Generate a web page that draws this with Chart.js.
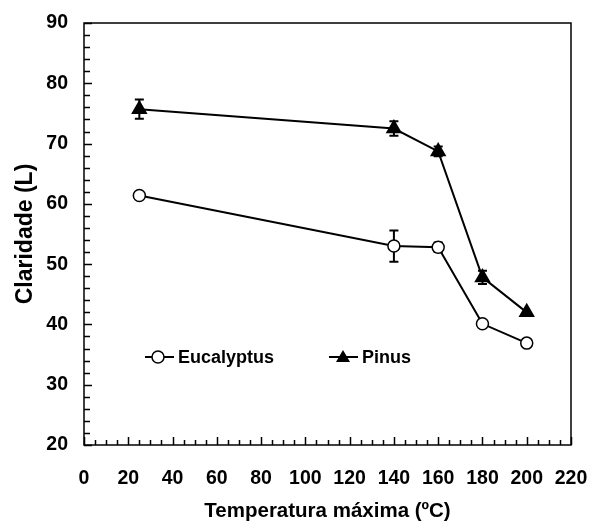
<!DOCTYPE html>
<html>
<head>
<meta charset="utf-8">
<script src="https://cdn.jsdelivr.net/npm/chart.js@4.4.0/dist/chart.umd.min.js"></script>
<style>
  html, body { margin: 0; padding: 0; background: #fff; }
  #wrap { width: 589px; height: 524px; }
</style>
</head>
<body>
<div id="wrap"><canvas id="myChart"></canvas></div>
<script>
const temps = [25, 140, 160, 180, 200];
const eucalyptus = [61.4, 53.0, 52.8, 40.1, 36.9];
const eucalyptusErr = [0, 2.6, 0.8, 0, 0];
const pinus = [75.7, 72.5, 68.7, 47.8, 42.0];
const pinusErr = [1.6, 1.2, 0.8, 1.1, 0];
const xTicks = [0, 20, 40, 60, 80, 100, 120, 140, 160, 180, 200, 220];
const yTicks = [20, 30, 40, 50, 60, 70, 80, 90];

const fontFam = "'Liberation Sans', Arial, sans-serif";

function points(ys) {
  return temps.map((t, i) => ({x: t, y: ys[i]}));
}

// error bars, frame, inside ticks and the legend box
const extras = {
  id: "extras",
  beforeDatasetsDraw(chart) {
    const ctx = chart.ctx;
    const xs = chart.scales.x, ys = chart.scales.y;
    ctx.save();
    ctx.strokeStyle = "#000";
    ctx.lineWidth = 2;
    [[eucalyptus, eucalyptusErr], [pinus, pinusErr]].forEach(([vals, errs]) => {
      vals.forEach((v, i) => {
        if (!errs[i]) return;
        const px = xs.getPixelForValue(temps[i]);
        const top = ys.getPixelForValue(v + errs[i]);
        const bot = ys.getPixelForValue(v - errs[i]);
        ctx.beginPath();
        ctx.moveTo(px, top); ctx.lineTo(px, bot);
        ctx.moveTo(px - 4.5, top); ctx.lineTo(px + 4.5, top);
        ctx.moveTo(px - 4.5, bot); ctx.lineTo(px + 4.5, bot);
        ctx.stroke();
      });
    });
    ctx.restore();
  },
  afterDraw(chart) {
    const ctx = chart.ctx;
    const a = chart.chartArea;
    const xs = chart.scales.x, ys = chart.scales.y;
    ctx.save();
    ctx.strokeStyle = "#000";
    ctx.lineWidth = 1.5;
    ctx.strokeRect(a.left, a.top, a.right - a.left, a.bottom - a.top);
    ctx.beginPath();
    for (let v = 20; v <= 90; v += 2) {
      const py = Math.round(ys.getPixelForValue(v)) + 0.5;
      const len = v % 10 === 0 ? 8 : 6;
      ctx.moveTo(a.left, py); ctx.lineTo(a.left + len, py);
    }
    for (let v = 0; v <= 220; v += 5) {
      const px = Math.round(xs.getPixelForValue(v)) + 0.5;
      const len = v % 20 === 0 ? 8 : 5;
      ctx.moveTo(px, a.bottom); ctx.lineTo(px, a.bottom - len);
    }
    ctx.stroke();

    // legend
    const ly = ys.getPixelForValue(34.6);
    ctx.font = "bold 18px " + fontFam;
    ctx.fillStyle = "#000";
    ctx.textBaseline = "middle";
    ctx.lineWidth = 2;
    ctx.beginPath();
    ctx.moveTo(a.left + 61, ly); ctx.lineTo(a.left + 90, ly);
    ctx.moveTo(a.left + 245, ly); ctx.lineTo(a.left + 274, ly);
    ctx.stroke();
    ctx.beginPath();
    ctx.arc(a.left + 74, ly, 6, 0, Math.PI * 2);
    ctx.fillStyle = "#fff"; ctx.fill();
    ctx.lineWidth = 1.5; ctx.stroke();
    ctx.beginPath();
    const tx = a.left + 259;
    ctx.moveTo(tx, ly - 7); ctx.lineTo(tx + 7, ly + 5); ctx.lineTo(tx - 7, ly + 5);
    ctx.closePath();
    ctx.fillStyle = "#000"; ctx.fill();
    ctx.fillText("Eucalyptus", a.left + 94, ly + 1);
    ctx.fillText("Pinus", a.left + 278, ly + 1);
    ctx.restore();
  }
};

new Chart("myChart", {
  type: "scatter",
  data: {
    datasets: [{
      label: "Eucalyptus",
      data: points(eucalyptus),
      showLine: true,
      borderColor: "#000",
      borderWidth: 2,
      pointStyle: "circle",
      pointRadius: 6,
      pointBorderWidth: 1.5,
      pointBackgroundColor: "#fff",
      pointBorderColor: "#000"
    }, {
      label: "Pinus",
      data: points(pinus),
      showLine: true,
      borderColor: "#000",
      borderWidth: 2,
      pointStyle: "triangle",
      pointRadius: 7.5,
      pointBackgroundColor: "#000",
      pointBorderColor: "#000"
    }]
  },
  plugins: [extras],
  options: {
    responsive: true,
    maintainAspectRatio: false,
    animation: false,
    layout: {padding: {top: 23, right: 18, left: 0, bottom: 0}},
    plugins: {
      legend: {display: false},
      tooltip: {enabled: false}
    },
    scales: {
      x: {
        type: "linear",
        min: 0, max: 220,
        afterBuildTicks: s => { s.ticks = xTicks.map(v => ({value: v})); },
        afterFit: s => { s.height = 79; s.paddingLeft = 0; s.paddingRight = 0; },
        grid: {display: false, drawTicks: false},
        border: {display: false},
        ticks: {color: "#000", padding: 22, maxRotation: 0, font: {family: fontFam, size: 19.5, weight: "bold"}},
        title: {display: true, text: "Temperatura máxima (ºC)", color: "#000", padding: 0,
                font: {family: fontFam, size: 20.5, weight: "bold"}}
      },
      y: {
        type: "linear",
        min: 20, max: 90,
        afterBuildTicks: s => { s.ticks = yTicks.map(v => ({value: v})); },
        afterFit: s => { s.width = 84; s.paddingTop = 0; s.paddingBottom = 0; },
        grid: {display: false, drawTicks: false},
        border: {display: false},
        ticks: {color: "#000", padding: 16, font: {family: fontFam, size: 19.5, weight: "bold"}},
        title: {display: true, text: "Claridade (L)", color: "#000", padding: {top: 12, bottom: 0},
                font: {family: fontFam, size: 23, weight: "bold"}}
      }
    }
  }
});
</script>
</body>
</html>
